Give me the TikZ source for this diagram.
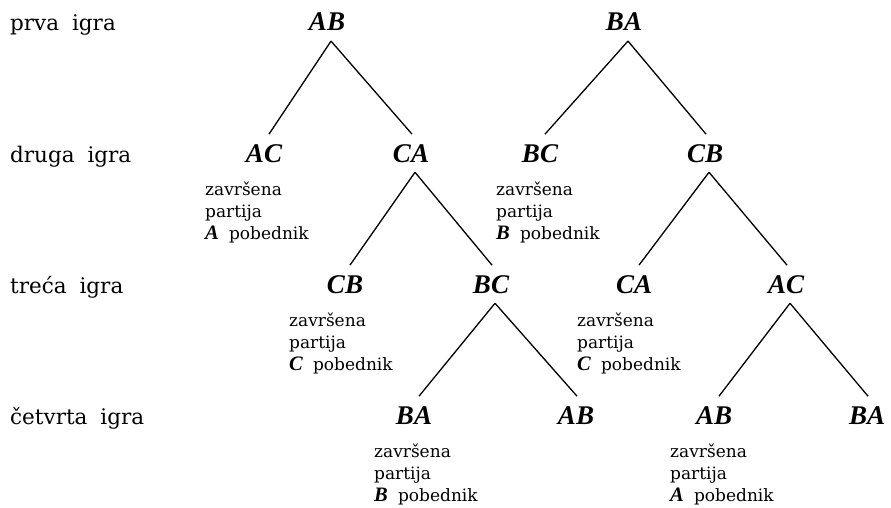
\documentclass[tikz,border=0pt]{standalone}
\usepackage{fontspec}
\setmainfont{DejaVu Serif}
\newfontfamily\letterfont{Liberation Serif}
\tikzset{
  game/.style={font=\letterfont\bfseries\itshape\fontsize{27}{30}\selectfont,
    anchor=base, inner sep=0pt, outer xsep=0pt, outer ysep=10pt},
  rowlab/.style={font=\fontsize{21.5}{25}\selectfont, anchor=base west, inner sep=0pt},
  note/.style={font=\fontsize{17}{22}\selectfont, anchor=base west, inner sep=0pt},
  edge/.style={line width=1.3pt}
}
% player letters inside the notes
\newcommand{\pl}[1]{{\letterfont\bfseries\itshape\fontsize{20.5}{22}\selectfont #1}}
% "game over" note with the winner
\newcommand{\kraj}[1]{\begin{tabular}[t]{@{}l@{}}završena\\ partija\\ \pl{#1}\hspace{0.6em}pobednik\end{tabular}}
\begin{document}
\begin{tikzpicture}[x=1pt,y=-1pt]
\useasboundingbox (0,0) rectangle (891,508);

% round labels
\node[rowlab] (r1) at (10,31)  {prva\hspace{0.6em}igra};
\node[rowlab] (r2) at (10,162) {druga\hspace{0.6em}igra};
\node[rowlab] (r3) at (10,293) {treća\hspace{0.6em}igra};
\node[rowlab] (r4) at (10,424) {četvrta\hspace{0.6em}igra};

% games
\node[game] (ab1)  at (327,31)  {AB};
\node[game] (ba1)  at (624,31)  {BA};
\node[game] (ac2)  at (264,162) {AC};
\node[game] (ca2)  at (411,162) {CA};
\node[game] (bc2)  at (540,162) {BC};
\node[game] (cb2)  at (705,162) {CB};
\node[game] (cb3)  at (345,293) {CB};
\node[game] (bc3)  at (491,293) {BC};
\node[game] (ca3)  at (634,293) {CA};
\node[game] (ac3)  at (786,293) {AC};
\node[game] (ba4)  at (414,424) {BA};
\node[game] (ab4)  at (576,424) {AB};
\node[game] (ab4b) at (714,424) {AB};
\node[game] (ba4b) at (867,424) {BA};

% branches
\draw[edge] ([xshift=4pt]ab1.south) -- ([xshift=5pt]ac2.north);
\draw[edge] ([xshift=4pt]ab1.south) -- ([xshift=1pt]ca2.north);
\draw[edge] ([xshift=4pt]ba1.south) -- ([xshift=5pt]bc2.north);
\draw[edge] ([xshift=4pt]ba1.south) -- ([xshift=1pt]cb2.north);
\draw[edge] ([xshift=4pt]ca2.south) -- ([xshift=5pt]cb3.north);
\draw[edge] ([xshift=4pt]ca2.south) -- ([xshift=1pt]bc3.north);
\draw[edge] ([xshift=4pt]cb2.south) -- ([xshift=5pt]ca3.north);
\draw[edge] ([xshift=4pt]cb2.south) -- ([xshift=1pt]ac3.north);
\draw[edge] ([xshift=4pt]bc3.south) -- ([xshift=5pt]ba4.north);
\draw[edge] ([xshift=4pt]bc3.south) -- ([xshift=1pt]ab4.north);
\draw[edge] ([xshift=4pt]ac3.south) -- ([xshift=5pt]ab4b.north);
\draw[edge] ([xshift=4pt]ac3.south) -- ([xshift=1pt]ba4b.north);

% finished matches
\node[note] (k1) at (205,195) {\kraj{A}};
\node[note] (k2) at (496,195) {\kraj{B}};
\node[note] (k3) at (289,326) {\kraj{C}};
\node[note] (k4) at (577,326) {\kraj{C}};
\node[note] (k5) at (374,457) {\kraj{B}};
\node[note] (k6) at (670,457) {\kraj{A}};
\end{tikzpicture}
\end{document}
